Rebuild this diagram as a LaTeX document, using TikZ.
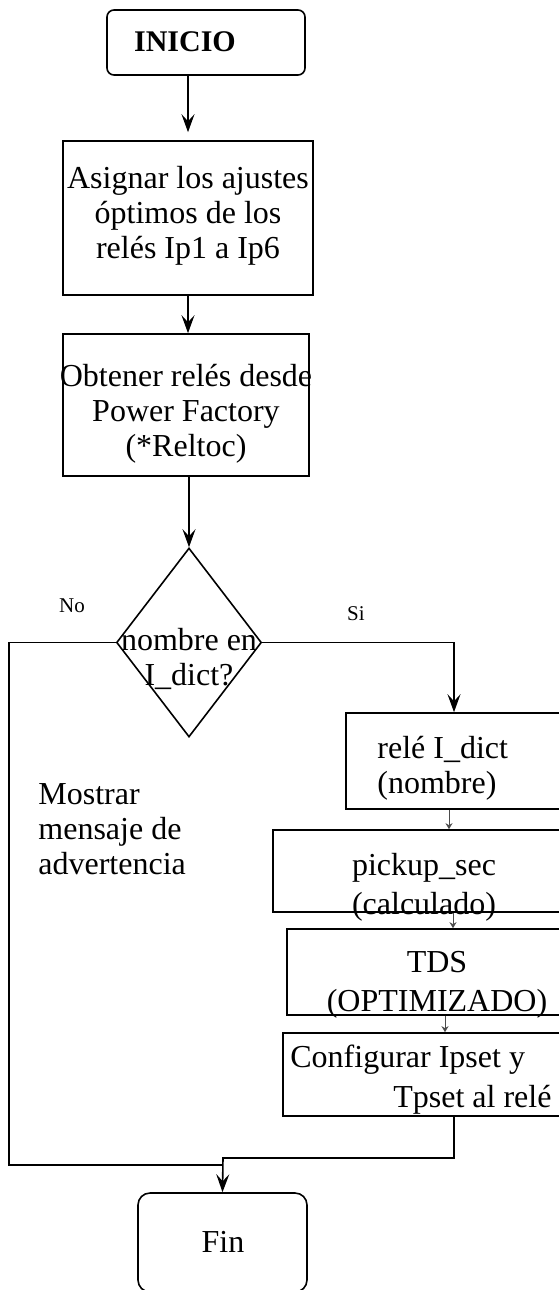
\documentclass[tikz,border=0pt]{standalone}
\usepackage{fontspec}
\setmainfont{Liberation Serif}
\usetikzlibrary{shapes.geometric,arrows.meta}

\begin{document}
\begin{tikzpicture}[x=0.5pt,y=-0.5pt,
    caja/.style={shape=rectangle,draw,line width=0.8pt,inner sep=0},
    texto/.style={inner sep=0,align=center,font=\fontsize{16}{17.5}\selectfont},
    flecha/.style={line width=0.8pt,-{Stealth[length=9pt,width=6.5pt,inset=3.5pt]}},
    flechita/.style={line width=0.5pt,draw=black!70,-{Stealth[length=3pt,width=3.5pt]}}]
  \useasboundingbox (0,0) rectangle (558,1290);
     \path (206,42.5) node (inicio) [caja,rounded corners=3.5pt,minimum width=99pt,minimum height=32.5pt] {}
           (188,218) node (asig) [caja,minimum width=125pt,minimum height=77pt] {}
           (186,405) node (obt) [caja,minimum width=123pt,minimum height=71pt] {}
           (189,642.5) node (dec) [shape=diamond,draw,line width=0.8pt,inner sep=0,minimum width=72.5pt,minimum height=94.5pt] {}
           (454,761) node (rel) [caja,minimum width=108pt,minimum height=48pt] {}
           (417.5,871) node (pick) [caja,minimum width=144.5pt,minimum height=41pt] {}
           (424.5,972) node (tds) [caja,minimum width=137.5pt,minimum height=43pt] {}
           (422.5,1074.5) node (conf) [caja,minimum width=139.5pt,minimum height=41.5pt] {}
           (222.5,1242.5) node (fin) [caja,rounded corners=6pt,minimum width=84.5pt,minimum height=49.5pt] {}
     ;
     \path (185,42) node (tInicio) [texto,font=\fontsize{15}{17.5}\selectfont\bfseries] {INICIO}
           (188,216) node (tAsig) [texto] {Asignar los ajustes\\óptimos de los\\relés Ip1 a Ip6}
           (186,414) node (tObt) [texto] {Obtener relés desde\\Power Factory\\(*Reltoc)}
           (189,659) node (tDec) [texto] {nombre en\\I\_dict?}
           (377,768) node (tRel) [texto,anchor=west,align=left] {relé I\_dict\\(nombre)}
           (424,887) node (tPick) [texto] {pickup\_sec\\[2pt](calculado)}
           (437,985) node (tTds) [texto] {TDS\\[2pt](OPTIMIZADO)}
           (290,1080) node (tConf) [texto,anchor=west,align=left] {Configurar Ipset y\\[2.5pt]\hspace*{51.5pt}Tpset al relé}
           (38,829) node (tMostrar) [texto,anchor=west,align=left] {Mostrar\\mensaje de\\advertencia}
           (72,606) node (tNo) [texto,font=\fontsize{10.5}{12}\selectfont] {No}
           (356,614) node (tSi) [texto,font=\fontsize{10.5}{12}\selectfont] {Si}
           (223,1242) node (tFin) [texto] {Fin}
     ;
     \coordinate (esquina) at (9,1165);
     \coordinate (union) at (223,1158);
     \draw[flecha,shorten >=4pt] (asig.north |- inicio.south) -- (asig.north);
     \draw[flecha] (asig.south) -- (asig.south |- obt.north);
     \draw[flecha] (dec.north |- obt.south) -- (dec.north);
     \draw[flecha] (dec.east) -| (rel.north);
     \draw[line width=0.8pt] (dec.west) -| (esquina) -- (esquina -| union);
     \draw[flecha] (rel.north |- conf.south) |- (union) -- (fin.north);
     \draw[flechita] ([xshift=-2.5pt]rel.south) -- ([xshift=-2.5pt]rel.south |- pick.north);
     \draw[flechita] ([xshift=-0.5pt]rel.south |- pick.south) -- ([xshift=-0.5pt]rel.south |- tds.north);
     \draw[flechita] ([xshift=-4.5pt]rel.south |- tds.south) -- ([xshift=-4.5pt]rel.south |- conf.north);
  \end{tikzpicture}
\end{document}
